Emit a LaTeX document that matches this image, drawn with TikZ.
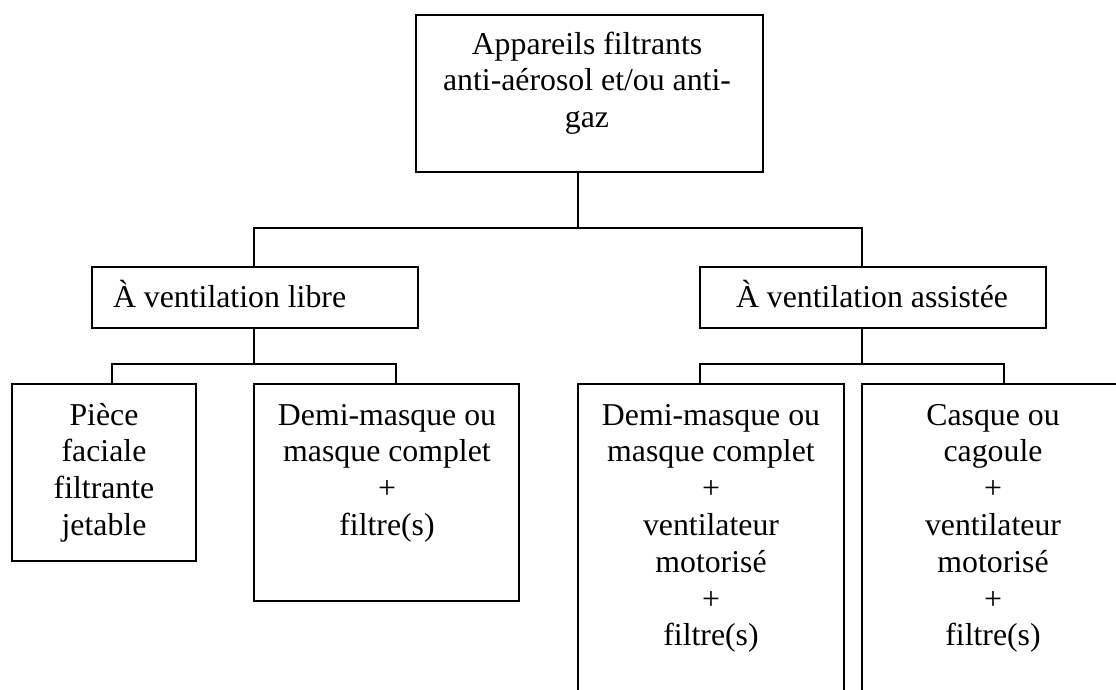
\documentclass[tikz,border=0pt]{standalone}
\usepackage{fontspec}
\setmainfont{Liberation Serif}[Ligatures=NoCommon]
\newcommand{\mlines}[1]{\begin{tabular}[t]{@{}c@{}}#1\end{tabular}}
\begin{document}
\begin{tikzpicture}[x=1pt,y=-1pt,
  box/.style={draw=black, line width=2pt, inner sep=0pt, outer sep=0pt, rectangle},
  txt/.style={inner sep=0pt, outer sep=0pt, anchor=base, font=\fontsize{31.8}{36.8}\selectfont},
  conn/.style={draw=black, line width=2pt}]
\clip (0,0) rectangle (1116,689);
\fill[white] (0,0) rectangle (1116,689);
% boxes
\node[box, minimum width=347pt, minimum height=157pt] (top) at (589.5,93.5) {};
\node[box, minimum width=326pt, minimum height=61pt] (libre) at (255,297.5) {};
\node[box, minimum width=346pt, minimum height=61pt] (assist) at (873,297.5) {};
\node[box, minimum width=184pt, minimum height=177pt] (piece) at (104,472.5) {};
\node[box, minimum width=265pt, minimum height=217pt] (demiL) at (386.5,492.5) {};
\node[box, minimum width=266pt, minimum height=346pt] (demiR) at (711,557) {};
\node[box, minimum width=262pt, minimum height=346pt] (casque) at (993,557) {};
% junctions
\coordinate (j0) at (578,228);
\coordinate (j1) at (254,364);
\coordinate (j2) at (862,364);
\coordinate (c1) at (112,364);
\coordinate (c2) at (396,364);
\coordinate (c3) at (700,364);
\coordinate (c4) at (1004,364);
% connectors
\draw[conn] (top.south -| j0) -- (j0);
\draw[conn] (libre.north -| j1) |- (j0) -| (assist.north -| j2);
\draw[conn] (libre.south -| j1) -- (j1);
\draw[conn] (piece.north -| c1) |- (c2) -- (demiL.north -| c2);
\draw[conn] (assist.south -| j2) -- (j2);
\draw[conn] (demiR.north -| c3) |- (c4) -- (casque.north -| c4);
% texts
\node[txt] (ttop) at (587,54) {\mlines{Appareils filtrants\\anti-aérosol et/ou anti-\\gaz}};
\node[txt, anchor=base west] (tlibre) at (113,307) {À ventilation libre};
\node[txt] (tassist) at (872,307) {À ventilation assistée};
\node[txt] (tpiece) at (104,425) {\mlines{Pièce\\faciale\\filtrante\\jetable}};
\node[txt] (tdemiL) at (387,425) {\mlines{Demi-masque ou\\masque complet\\+\\filtre(s)}};
\node[txt] (tdemiR) at (711,425) {\mlines{Demi-masque ou\\masque complet\\+\\ventilateur\\motorisé\\+\\filtre(s)}};
\node[txt] (tcasque) at (993,425) {\mlines{Casque ou\\cagoule\\+\\ventilateur\\motorisé\\+\\filtre(s)}};
\end{tikzpicture}
\end{document}
